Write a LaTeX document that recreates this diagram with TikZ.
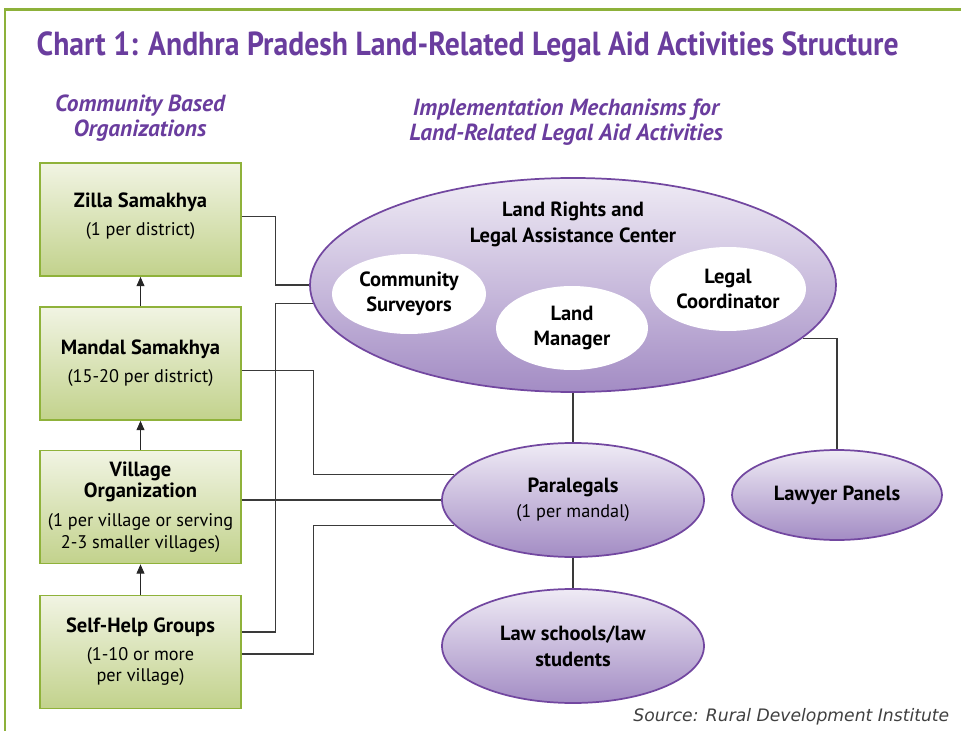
\documentclass[tikz,border=0pt]{standalone}
\usepackage{fontspec}
\setmainfont{PT Sans}
\newfontfamily\titlefont[FakeStretch=0.89]{PT Sans}
\newfontfamily\sourcefont{DejaVu Sans}
\usetikzlibrary{shapes.geometric,arrows.meta}

\definecolor{chartpurple}{HTML}{6A3D9E}
\definecolor{framegreen}{HTML}{8DB13A}
\definecolor{boxgreen}{HTML}{8FB23A}
\definecolor{greentop}{HTML}{F1F4E3}
\definecolor{greenbot}{HTML}{C2D28C}
\definecolor{ellpurple}{HTML}{7247A0}
\definecolor{purpletop}{HTML}{EFEBF5}
\definecolor{purplebot}{HTML}{A38CC4}
\definecolor{linegray}{HTML}{3A3A3A}
\definecolor{sourcegray}{HTML}{404040}

\newcommand{\countline}{\fontsize{13.7}{16}\selectfont}

\tikzset{
	cbo/.style={draw=boxgreen,line width=1.3pt,top color=greentop,bottom color=greenbot,minimum width=150.75pt,minimum height=84.75pt,inner sep=0pt,align=center,font=\fontsize{15.4}{16}\selectfont},
	mech/.style={ellipse,draw=ellpurple,line width=1.3pt,top color=purpletop,bottom color=purplebot,inner sep=0pt,align=center,font=\fontsize{15.4}{19.5}\selectfont},
	role/.style={ellipse,fill=white,inner sep=0pt,align=center,font=\fontsize{15.4}{19}\selectfont\bfseries},
	link/.style={draw=linegray,line width=0.8pt},
	rise/.style={-{Triangle[length=7pt,width=6pt]},line width=0.8pt,draw=black!85},
	heading/.style={text=chartpurple,align=center,font=\fontsize{17.5}{19}\selectfont\bfseries\itshape}
}

\begin{document}
\begin{tikzpicture}[x=0.75pt,y=-0.75pt]
	\useasboundingbox (0,0) rectangle (961,731);
	\draw[framegreen,line width=1.6pt] (5,731) -- (5,9.5) -- (961,9.5);
	\node[anchor=west,text=chartpurple,font=\titlefont\bfseries\fontsize{25}{29}\selectfont] (title) at (32,47) {Chart 1: Andhra Pradesh Land-Related Legal Aid Activities Structure};
	\node[heading] (cbohead) at (140,118) {Community Based\\Organizations};
	\node[heading] (mechhead) at (566,122) {Implementation Mechanisms for\\Land-Related Legal Aid Activities};

	% community based organizations
	\node[cbo] (zilla) at (140.5,219.5) {\textbf{Zilla Samakhya}\\[5pt]\countline(1 per district)\\[-8pt]};
	\node[cbo] (mandal) at (140.5,363.5) {\textbf{Mandal Samakhya}\\[5pt]\countline(15-20 per district)};
	\node[cbo] (village) at (140.5,507) {\textbf{Village}\\\textbf{Organization}\\[6pt]\countline(1 per village or serving\\\countline2-3 smaller villages)};
	\node[cbo] (shg) at (140.5,652) {\textbf{Self-Help Groups}\\[5pt]\countline(1-10 or more\\\countline per village)};
	\draw[rise] (mandal.north) -- (zilla.south);
	\draw[rise] (village.north) -- (mandal.south);
	\draw[rise] (shg.north) -- (village.south);

	% implementation mechanisms
	\node[mech,minimum width=394.5pt,minimum height=160.5pt] (lrc) at (573,285) {};
	\node[font=\fontsize{15.4}{19.5}\selectfont\bfseries,align=center] (lrctitle) at (573,224) {Land Rights and\\Legal Assistance Center};
	\node[role,minimum width=115.5pt,minimum height=60pt] (surveyors) at (409,294) {Community\\Surveyors};
	\node[role,minimum width=114pt,minimum height=63pt] (manager) at (572,328) {Land\\Manager};
	\node[role,minimum width=117pt,minimum height=63pt] (coord) at (728,289) {Legal\\Coordinator};
	\node[mech,minimum width=196.5pt,minimum height=85.5pt] (para) at (573,500) {\textbf{Paralegals}\\[-1pt]\countline(1 per mandal)};
	\node[mech,minimum width=196.5pt,minimum height=85.5pt] (lawschool) at (573,646) {\textbf{Law schools/law}\\\textbf{students}};
	\node[mech,minimum width=157.5pt,minimum height=67.5pt,font=\fontsize{15.4}{16}\selectfont\bfseries] (lawyer) at (837,495) {Lawyer Panels};

	% connectors
	\draw[link] ([yshift=2.5pt]zilla.east) -- +(34,0) |- (lrc.west);
	\draw[link] ([yshift=15pt]shg.east) -- +(34,0) |- (lrc.184);
	\draw[link] ([yshift=-5.5pt]mandal.east) -- +(72,0) |- (para.168);
	\draw[link] (village.east |- para) -- (para.west);
	\draw[link] ([yshift=-1.5pt]shg.east) -- +(72,0) |- (para.192);
	\draw[link] (lrc.south) -- (para.north);
	\draw[link] (para.south) -- (lawschool.north);
	\draw[link] (lrc.347) -| (lawyer.north);

	\node[anchor=base east,text=sourcegray,font=\sourcefont\itshape\fontsize{12.9}{15}\selectfont] (source) at (954,721) {Source: Rural Development Institute};
\end{tikzpicture}
\end{document}
